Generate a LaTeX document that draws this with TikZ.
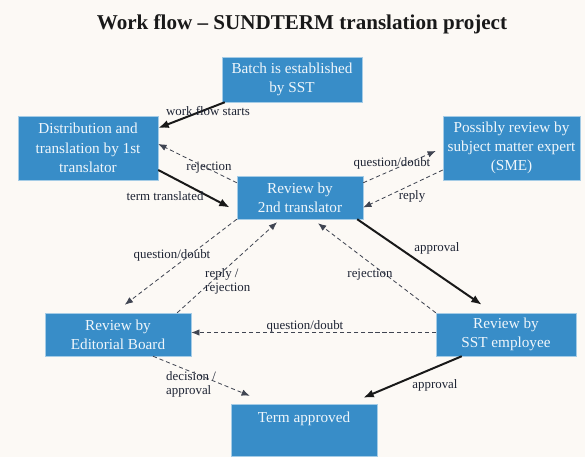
\documentclass[tikz,border=0pt]{standalone}
\usepackage{fontspec}
\setmainfont{Liberation Serif}
\usepackage{tikz}
\usetikzlibrary{arrows.meta, calc, positioning}
\definecolor{boxblue}{RGB}{56,141,200}
\definecolor{paper}{RGB}{252,249,245}
\definecolor{ink}{RGB}{30,36,52}

\tikzset{
  wh/.style 2 args={minimum width=#1*0.03cm, minimum height=#2*0.03cm},
  box/.style={draw=white!55!boxblue, line width=0.4pt, fill=boxblue,
    text=white!92!boxblue, align=center, inner sep=0pt,
    font=\fontsize{13}{16.5}\selectfont},
  flow/.style={line width=1.7pt, black!90, -{Latex[length=9pt,width=7pt]}},
  back/.style={line width=0.7pt, ink!85, dash pattern=on 3.5pt off 2.5pt,
    -{Latex[length=7pt,width=5.5pt]}},
  lbl/.style={text=ink, font=\fontsize{11}{12.5}\selectfont, inner sep=0pt}
}

\begin{document}
\begin{tikzpicture}[x=0.03cm, y=-0.03cm]
    \fill[paper] (0,0) rectangle (585,457);
    \useasboundingbox (0,0) rectangle (585,457);

    \node[font=\bfseries\fontsize{18}{20}\selectfont, text=black!90] (title)
        at (302,24) {Work flow -- SUNDTERM translation project};

    % the boxes
    \node[box, wh={140}{45}] (batch) at (292,79.5) {Batch is established\\by SST};
    \node[box, wh={140}{64}] (dist) at (88,148) {Distribution and\\translation by 1st\\translator};
    \node[box, wh={137}{64}] (sme) at (511.5,148) {Possibly review by\\subject matter expert\\(SME)};
    \node[box, wh={126}{43}] (rev2) at (300,197.5) {Review by\\2nd translator};
    \node[box, wh={146}{43}] (edit) at (118,334.5) {Review by\\Editorial Board};
    \node[box, wh={140}{43}] (sst) at (506,334.5) {Review by\\SST employee};
    \node[box, wh={146}{52}, text depth=21pt] (term) at (304,430) {Term approved};

    % main route
    \draw[flow] ($(batch.south west)+(3,0)$) -- ($(dist.east)+(0,-20)$);
    \draw[flow] ($(dist.east)+(0,22)$) -- ($(rev2.west)+(-7,10)$);
    \draw[flow] ($(rev2.south east)+(-6,0)$) -- ($(sst.north west)+(46,-8)$);
    \draw[flow] ($(sst.south west)+(26,0)$) -- ($(term.north east)+(-14,-6)$);

    % side routes
    \draw[back] ($(rev2.north west)+(0,7)$) -- ($(dist.east)+(0,-4)$);
    \draw[back] (rev2.south west) -- ($(edit.north west)+(80,-8)$);
    \draw[back] ($(edit.north east)+(-14,0)$) -- ($(rev2.south)+(-23,3)$);
    \draw[back] ($(rev2.north east)+(0,7)$) -- ($(sme.west)+(-7,3)$);
    \draw[back] ($(sme.west)+(0,22)$) -- ($(rev2.east)+(0,10)$);
    \draw[back] (sst.north west) -- ($(rev2.south)+(18,4)$);
    \draw[back] ($(sst.west)+(0,-2)$) -- ($(edit.east)+(0,-2)$);
    \draw[back] ($(edit.south)+(35,0)$) -- ($(term.north west)+(19,-8)$);

    % labels
    \foreach \n/\x/\y/\t in {
        lstart/208/111/{work flow starts},
        ltrans/165/196/{term translated},
        lrej/209/168/{rejection},
        lqd/172/255/{question/doubt},
        lqdsme/392/163/{question/doubt},
        lreply/412/196/{reply},
        lappr/437/248/{approval},
        lrejsst/370/275/{rejection},
        lqdsst/305/326/{question/doubt},
        lapprsst/435/385/{approval}}
        \node[lbl] (\n) at (\x,\y) {\t};
    \node[lbl, align=left, anchor=west] (lreprej) at (205,281.5) {reply /\\rejection};
    \node[lbl, align=left, anchor=west] (ldec) at (166,384.5) {decision /\\approval};

\end{tikzpicture}
\end{document}
